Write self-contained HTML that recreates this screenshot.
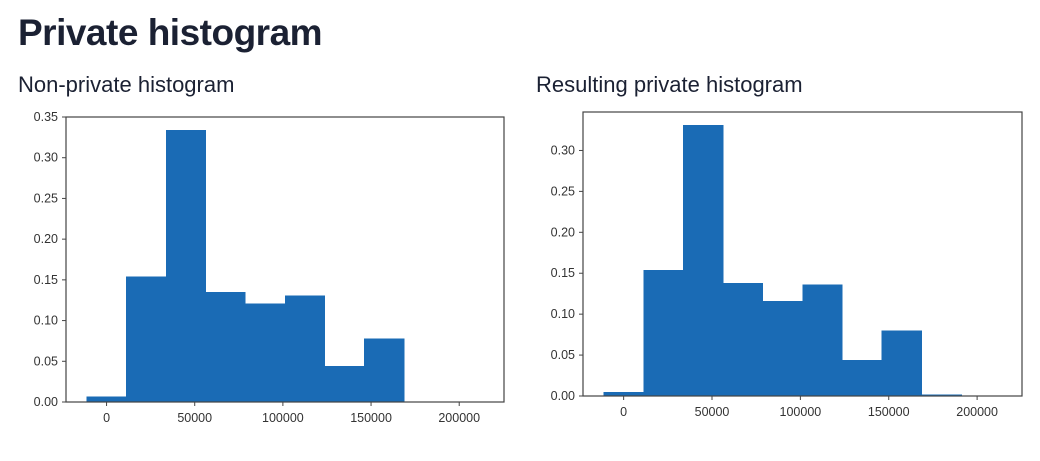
<!DOCTYPE html>
<html><head><meta charset="utf-8"><style>
body{margin:0;width:1040px;height:461px;background:#fff;overflow:hidden;font-family:"Liberation Sans",sans-serif;}
#title{position:absolute;left:18px;top:12px;font-size:37px;font-weight:bold;color:#1b2133;letter-spacing:-0.5px;}
.sub{position:absolute;top:72px;font-size:22px;color:#1b2133;}
svg{position:absolute;left:0;top:0;}
</style></head><body>
<div id="title">Private histogram</div>
<div class="sub" style="left:18px">Non-private histogram</div>
<div class="sub" style="left:536px">Resulting private histogram</div>
<svg id="svg" width="1040" height="461"></svg>
<script>
const binStart = -11330;
const binWidth = 22480;
const leftValues = [0.007,0.154,0.334,0.135,0.121,0.131,0.044,0.078];
const rightValues = [0.005,0.154,0.331,0.138,0.116,0.136,0.044,0.080,0.002];
const xTicks = [0,50000,100000,150000,200000];
const leftYTicks = [0,0.05,0.10,0.15,0.20,0.25,0.30,0.35];
const rightYTicks = [0,0.05,0.10,0.15,0.20,0.25,0.30];
const xMin = -23000, xMax = 225400;

const svg = document.getElementById('svg');
const NS = 'http://www.w3.org/2000/svg';
function mk(t, a){const e=document.createElementNS(NS,t);for(const k in a)e.setAttribute(k,a[k]);svg.appendChild(e);return e;}

function chart(box, yMax, values, yTicks, prefix){
  const sx = v => box.x0 + (v - xMin)/(xMax - xMin)*(box.x1-box.x0);
  const sy = v => box.y1 - v/yMax*(box.y1-box.y0);
  values.forEach((v,i)=>{
    const x0=sx(binStart+i*binWidth), x1=sx(binStart+(i+1)*binWidth);
    const r=mk('rect',{x:x0,y:sy(v),width:x1-x0+0.6,height:sy(0)-sy(v),fill:'#1a6bb5','shape-rendering':'crispEdges'});
    
    
  });
  const f=mk('rect',{x:box.x0,y:box.y0,width:box.x1-box.x0,height:box.y1-box.y0,fill:'none',stroke:'#444','stroke-width':1.2});
  
  
  xTicks.forEach(t=>{
    const x=sx(t);
    mk('line',{x1:x,x2:x,y1:box.y1,y2:box.y1+4,stroke:'#444'});
    const tx=mk('text',{x:x,y:box.y1+20,'text-anchor':'middle','font-size':12.5,fill:'#333','font-family':'Liberation Sans, sans-serif'});
    tx.textContent=t;
    
    
  });
  yTicks.forEach(t=>{
    const y=sy(t);
    mk('line',{x1:box.x0-4,x2:box.x0,y1:y,y2:y,stroke:'#444'});
    const tx=mk('text',{x:box.x0-8,y:y+4,'text-anchor':'end','font-size':12.5,fill:'#333','font-family':'Liberation Sans, sans-serif'});
    tx.textContent=t.toFixed(2);
    
    
  });
}
chart({x0:66,x1:504,y0:117,y1:402},0.35,leftValues,leftYTicks,'left');
chart({x0:583,x1:1022,y0:112,y1:396},0.347,rightValues,rightYTicks,'right');
</script>
</body></html>
